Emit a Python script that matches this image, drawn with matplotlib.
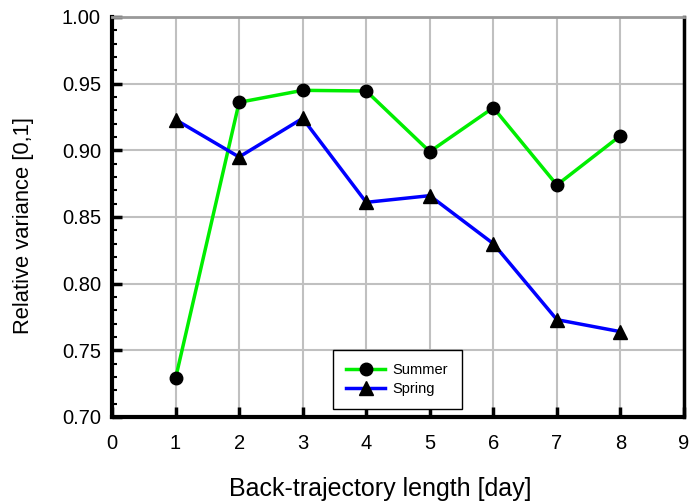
import matplotlib
matplotlib.use("Agg")
import matplotlib.pyplot as plt
from matplotlib.ticker import MultipleLocator

plt.rcParams['font.family'] = ['Liberation Sans', 'DejaVu Sans']

days = [1, 2, 3, 4, 5, 6, 7, 8]
summer = [0.729, 0.936, 0.945, 0.9445, 0.899, 0.932, 0.874, 0.911]
spring = [0.923, 0.895, 0.924, 0.861, 0.866, 0.830, 0.773, 0.764]

fig = plt.figure(figsize=(6.91, 5.03), dpi=100)
ax = fig.add_axes([112/691, (503-417)/503, 572/691, 400/503])

ax.plot(days, summer, color='#00ee00', lw=2.5, marker='o', ms=9,
        mfc='black', mec='black', label='Summer', zorder=3)
ax.plot(days, spring, color='#0000ff', lw=2.5, marker='^', ms=10,
        mfc='black', mec='black', label='Spring', zorder=3)

ax.set_xlim(0, 9)
ax.set_ylim(0.70, 1.00)
ax.xaxis.set_major_locator(MultipleLocator(1))
ax.yaxis.set_major_locator(MultipleLocator(0.05))
ax.yaxis.set_minor_locator(MultipleLocator(0.01))
ax.yaxis.set_major_formatter(plt.FormatStrFormatter('%.2f'))

ax.grid(True, which='major', color='#c0c0c0', lw=1.5, zorder=0)
ax.set_axisbelow(True)
ax.tick_params(which='major', direction='in', length=7, width=2.5,
               labelsize=14.5, top=False, right=False)
ax.tick_params(axis='x', pad=12)
ax.tick_params(axis='y', pad=8)
ax.tick_params(which='minor', direction='in', length=3.5, width=1.5,
               top=False, right=False)

for side in ['left', 'bottom']:
    ax.spines[side].set_linewidth(3)
ax.spines['right'].set_linewidth(2.5)
ax.spines['top'].set_color('#999999')
ax.spines['top'].set_linewidth(2)

ax.set_xlabel('Back-trajectory length [day]', fontsize=18)
ax.xaxis.set_label_coords(0.469, -0.15)
ax.set_ylabel('Relative variance [0,1]', fontsize=15.8)
ax.yaxis.set_label_coords(-0.136, 0.4775)

leg = ax.legend(loc='lower left', bbox_to_anchor=(0.386, 0.02, 0.2255, 0.15),
                mode='expand', borderaxespad=0, fontsize=10.5, fancybox=False,
                edgecolor='black', framealpha=1, handlelength=2.7,
                handletextpad=0.5, borderpad=0.9, labelspacing=0.3)
leg.get_frame().set_linewidth(1)

fig.savefig('out.png', dpi=100)
